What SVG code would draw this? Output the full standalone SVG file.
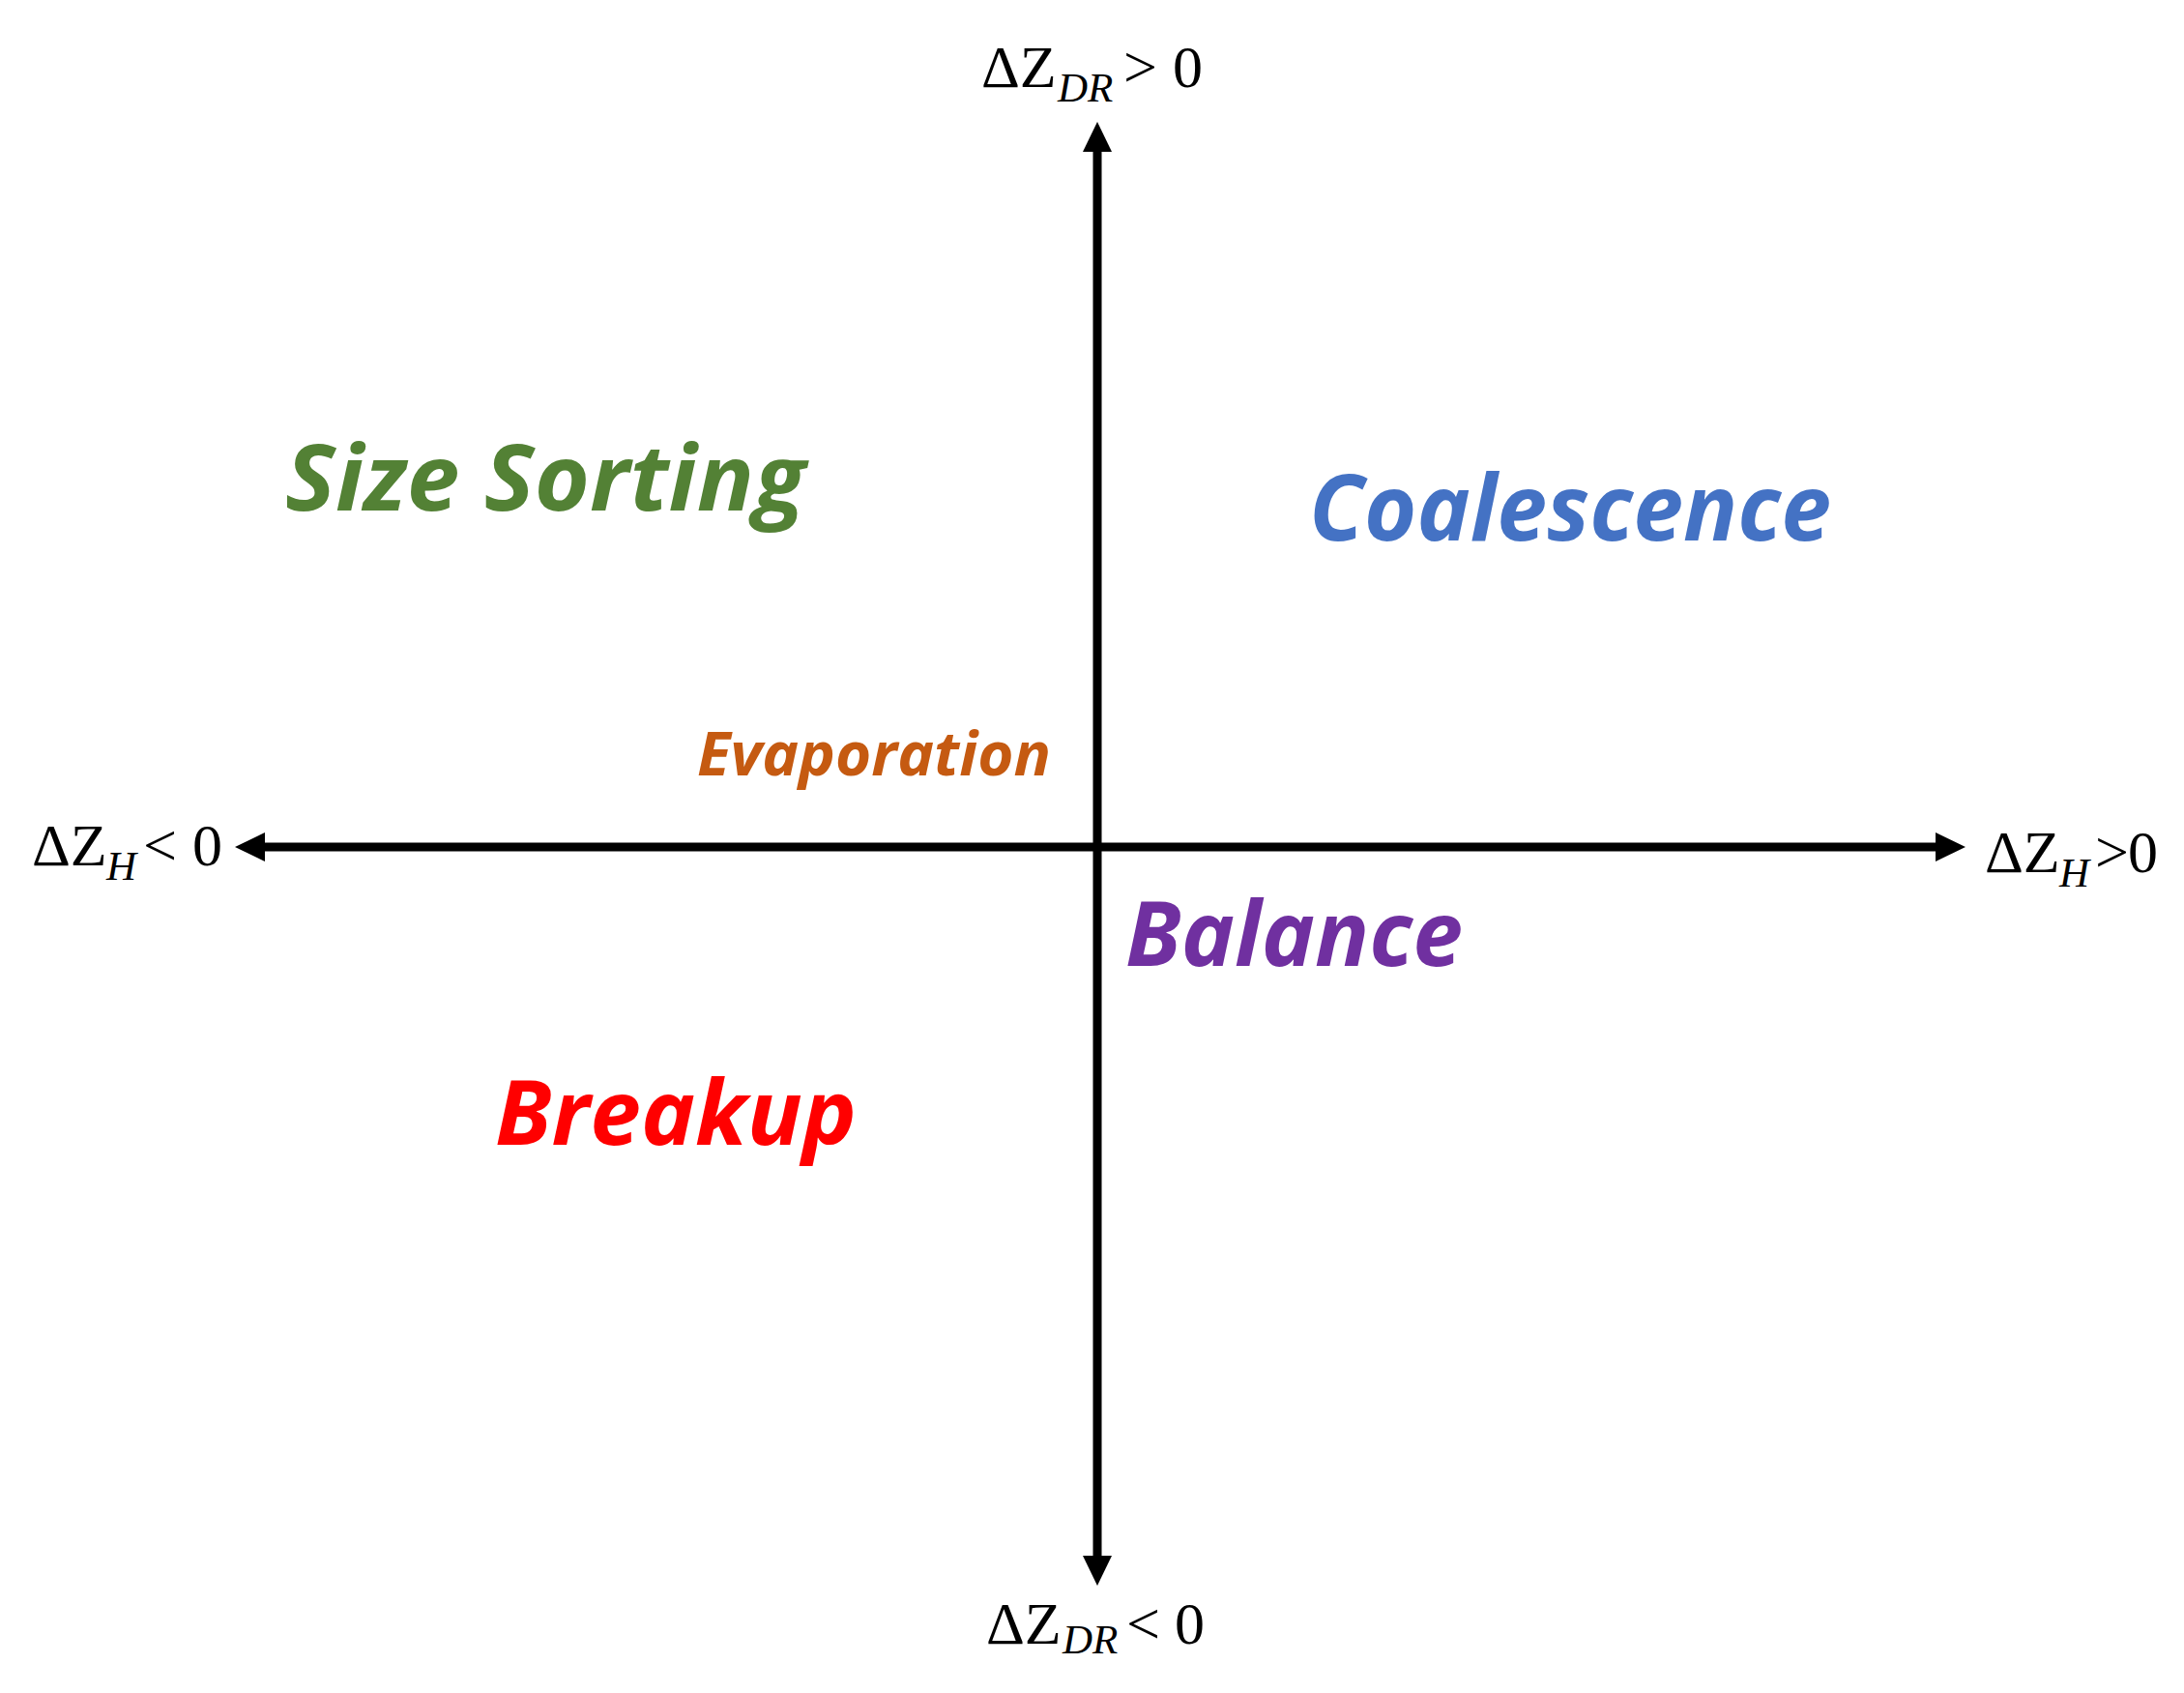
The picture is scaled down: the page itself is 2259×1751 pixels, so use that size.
<svg xmlns="http://www.w3.org/2000/svg" width="2259" height="1751" viewBox="0 0 2259 1751">
  <style>
    .ax { font-family: "Liberation Serif", "DejaVu Serif", serif; font-size: 62px; fill: #000; }
    .sub { font-style: italic; font-size: 43px; }
    .q { font-family: "Open Sans", "Noto Sans", sans-serif; font-weight: bold; font-style: italic; }
    .axis { stroke: #000; stroke-width: 9; fill: none; }
  </style>
  <defs>
    <marker id="head" viewBox="0 0 31 30" markerUnits="userSpaceOnUse" markerWidth="31" markerHeight="30" refX="4" refY="15" orient="auto-start-reverse">
      <path d="M0,0 L31,15 L0,30 z" fill="#000"/>
    </marker>
  </defs>
  <rect width="2259" height="1751" fill="#fff"/>
  <g id="connectors">
    <line class="axis" x1="1135" y1="1613" x2="1135" y2="153" marker-start="url(#head)" marker-end="url(#head)"/>
    <line class="axis" x1="270" y1="876" x2="2006" y2="876" marker-start="url(#head)" marker-end="url(#head)"/>
  </g>
  <g id="label-zdr-pos">
    <text class="ax" x="1015" y="90">ΔZ<tspan class="sub" x="1094" y="105">DR</tspan><tspan x="1162" y="90">&gt;</tspan><tspan x="1213" y="90">0</tspan></text>
  </g>
  <g id="label-zdr-neg">
    <text class="ax" x="1020" y="1700">ΔZ<tspan class="sub" x="1099" y="1710">DR</tspan><tspan x="1165" y="1700">&lt;</tspan><tspan x="1215" y="1700">0</tspan></text>
  </g>
  <g id="label-zh-neg">
    <text class="ax" x="33" y="895">ΔZ<tspan class="sub" x="110" y="910">H</tspan><tspan x="148" y="895">&lt;</tspan><tspan x="199" y="895">0</tspan></text>
  </g>
  <g id="label-zh-pos">
    <text class="ax" x="2053" y="902">ΔZ<tspan class="sub" x="2130" y="917">H</tspan><tspan x="2167" y="902">&gt;</tspan><tspan x="2201" y="902">0</tspan></text>
  </g>
  <g id="size-sorting">
    <text class="q" x="295" y="528" font-size="95" fill="#538135" textLength="538" lengthAdjust="spacingAndGlyphs">Size Sorting</text>
  </g>
  <g id="coalescence">
    <text class="q" x="1354" y="559" font-size="95" fill="#4472C4" textLength="540" lengthAdjust="spacingAndGlyphs">Coalescence</text>
  </g>
  <g id="evaporation">
    <text class="q" x="721" y="802" font-size="62" fill="#C55A11" textLength="366" lengthAdjust="spacingAndGlyphs">Evaporation</text>
  </g>
  <g id="balance">
    <text class="q" x="1164" y="999" font-size="93" fill="#7030A0" textLength="349" lengthAdjust="spacingAndGlyphs">Balance</text>
  </g>
  <g id="breakup">
    <text class="q" x="512" y="1184" font-size="93" fill="#FF0000" textLength="374" lengthAdjust="spacingAndGlyphs">Breakup</text>
  </g>
</svg>
